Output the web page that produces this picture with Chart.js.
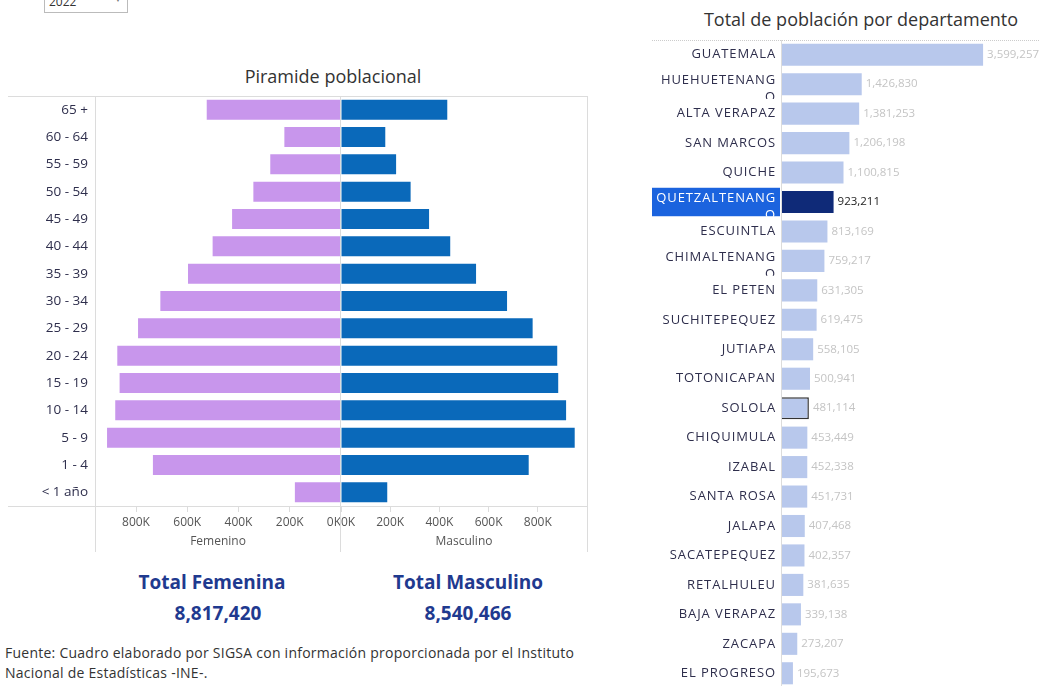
<!DOCTYPE html>
<html>
<head>
<meta charset="utf-8">
<script src="https://cdn.jsdelivr.net/npm/chart.js@4.4.1/dist/chart.umd.min.js"></script>
<style>
  body { margin:0; width:1039px; height:686px; overflow:hidden; background:#fff; position:relative;
         font-family:"Open Sans", sans-serif; }
  .box { position:absolute; }
  .hl { position:absolute; height:1px; background:#dcdcdc; }
  .vl { position:absolute; width:1px; background:#dcdcdc; }
  .ttl { position:absolute; font-size:18px; color:#333; white-space:nowrap; transform:translate(-50%,-50%); }
  .tot { position:absolute; font-weight:bold; font-size:19px; color:#1f3a8f; white-space:nowrap; transform:translate(-50%,-50%); }
</style>
</head>
<body>

<div class="box" style="left:44px;top:-11px;width:82px;height:22px;border:1px solid #bbb;font-size:12px;color:#333;">
  <span style="position:absolute;left:4px;top:3px;">2022</span>
  <span style="position:absolute;right:5px;top:3px;font-size:8px;color:#777;">▼</span>
</div>

<div class="ttl" style="left:333px;top:76px;">Piramide poblacional</div>
<div class="ttl" style="left:861px;top:19px;">Total de población por departamento</div>

<div class="box" style="left:0;top:90px;width:341px;height:466px;"><canvas id="fem"></canvas></div>
<div class="box" style="left:341px;top:90px;width:250px;height:466px;"><canvas id="mas"></canvas></div>
<div class="box" style="left:640px;top:0;width:399px;height:688px;"><canvas id="dept"></canvas></div>

<div class="hl" style="left:8px;top:96px;width:580px;"></div>
<div class="hl" style="left:8px;top:506px;width:88px;"></div>
<div class="vl" style="left:95px;top:96px;height:456px;"></div>
<div class="vl" style="left:340px;top:96px;height:456px;"></div>
<div class="vl" style="left:587px;top:96px;height:456px;"></div>

<div style="position:absolute;left:652px;top:40px;width:387px;border-top:1px dotted #ccc;"></div>
<div class="vl" style="left:781px;top:40px;height:646px;"></div>

<div class="tot" style="left:212px;top:582px;">Total Femenina</div>
<div class="tot" style="left:218px;top:613px;">8,817,420</div>
<div class="tot" style="left:468px;top:582px;">Total Masculino</div>
<div class="tot" style="left:468px;top:613px;">8,540,466</div>

<div style="position:absolute;left:5px;top:643px;font-size:14px;letter-spacing:0.25px;line-height:20px;color:#333;white-space:nowrap;">
  Fuente: Cuadro elaborado por SIGSA con información proporcionada por el Instituto<br>Nacional de Estadísticas -INE-.
</div>

<script>
var ageGroups = ['65 +', '60 - 64', '55 - 59', '50 - 54', '45 - 49', '40 - 44', '35 - 39', '30 - 34',
                 '25 - 29', '20 - 24', '15 - 19', '10 - 14', '5 - 9', '1 - 4', '< 1 año'];
var femenino = [524000, 221000, 276000, 342000, 425000, 501000, 597000, 705000,
                792000, 873000, 864000, 881000, 913000, 734000, 180000];
var masculino = [432000, 180000, 224000, 283000, 358000, 444000, 549000, 675000,
                 779000, 879000, 883000, 915000, 950000, 763000, 188000];
var pyramidTicks = [0, 200000, 400000, 600000, 800000];

var departamentos = ['GUATEMALA', 'HUEHUETENANGO', 'ALTA VERAPAZ', 'SAN MARCOS', 'QUICHE', 'QUETZALTENANGO',
                     'ESCUINTLA', 'CHIMALTENANGO', 'EL PETEN', 'SUCHITEPEQUEZ', 'JUTIAPA', 'TOTONICAPAN',
                     'SOLOLA', 'CHIQUIMULA', 'IZABAL', 'SANTA ROSA', 'JALAPA', 'SACATEPEQUEZ',
                     'RETALHULEU', 'BAJA VERAPAZ', 'ZACAPA', 'EL PROGRESO'];
var poblacion = [3599257, 1426830, 1381253, 1206198, 1100815, 923211, 813169, 759217, 631305, 619475,
                 558105, 500941, 481114, 453449, 452338, 451731, 407468, 402357, 381635, 339138,
                 273207, 195673];
var seleccionado = 'QUETZALTENANGO';
var marcado = 'SOLOLA';

Chart.defaults.font.family = "'Open Sans', sans-serif";

var pyramid = function(id, data, color, reverse, max, title, showLabels) {
    var ctx = document.getElementById(id).getContext('2d');
    return new Chart(ctx, {
        type: 'bar',
        data: {
            labels: ageGroups,
            datasets: [{ data: data, backgroundColor: color, barPercentage: 0.73, categoryPercentage: 1 }]
        },
        options: {
            indexAxis: 'y',
            responsive: true,
            maintainAspectRatio: false,
            animation: false,
            layout: { padding: { top: 6, right: showLabels ? 0 : 4 } },
            plugins: { legend: { display: false }, tooltip: { enabled: false } },
            scales: {
                x: {
                    min: 0, max: max, reverse: reverse,
                    afterBuildTicks: function(s) {
                        s.ticks = pyramidTicks.concat([max]).map(function(v) { return { value: v }; });
                    },
                    afterFit: function(s) {
                        s.height = 50;
                        s.paddingLeft = 0;
                        s.paddingRight = 0;
                    },
                    grid: { drawOnChartArea: false, tickLength: 6, color: '#dcdcdc' },
                    border: { color: '#dcdcdc' },
                    ticks: {
                        align: 'inner', padding: 3, maxRotation: 0, autoSkip: false,
                        color: '#555', font: { size: 12 },
                        callback: function(v) { return v >= max ? '' : (v / 1000) + 'K'; }
                    },
                    title: { display: true, text: title, color: '#555', font: { size: 12 },
                             padding: { top: 0, bottom: 7 } }
                },
                y: {
                    display: showLabels,
                    afterFit: function(s) {
                        if (showLabels) s.width = 95;
                        s.paddingTop = 0;
                        s.paddingBottom = 0;
                    },
                    grid: { display: false, drawTicks: false },
                    border: { display: false },
                    ticks: { padding: 7, color: '#2e2e4c', font: { size: 13.5 } }
                }
            }
        }
    });
};

pyramid('fem', femenino, '#c896ec', true, 960000, 'Femenino', true);
pyramid('mas', masculino, '#0a69ba', false, 1000000, 'Masculino', false);

// wrap a department name the way the dashboard does (overflow goes to a clipped 2nd line)
var wrapName = function(c, name, trigger, maxW) {
    if (c.measureText(name).width <= trigger) return [name];
    var n = name.length - 1;
    while (n > 1 && c.measureText(name.slice(0, n)).width > maxW) n--;
    return [name.slice(0, n), name.slice(n)];
};

var deptLabels = {
    id: 'deptLabels',
    beforeDatasetsDraw: function(chart) {
        var y = chart.scales.y, c = chart.ctx;
        var band = (y.bottom - y.top) / departamentos.length;
        var yc = y.getPixelForValue(departamentos.indexOf(seleccionado));
        c.save();
        c.fillStyle = '#1b63de';
        c.fillRect(12, yc - band / 2 + 0.5, 128, band - 1);
        c.restore();
    },
    afterDraw: function(chart) {
        var c = chart.ctx, y = chart.scales.y, meta = chart.getDatasetMeta(0);
        var band = (y.bottom - y.top) / departamentos.length;
        var left = chart.chartArea.left;
        c.save();
        c.textBaseline = 'middle';
        for (var i = 0; i < departamentos.length; i++) {
            var name = departamentos[i];
            var yc = y.getPixelForValue(i);
            c.font = '13px "Open Sans"';
            c.letterSpacing = '0.9px';
            c.textAlign = 'right';
            c.fillStyle = name === seleccionado ? '#fff' : '#2e2e4c';
            var lines = wrapName(c, name, 119.5, 124);
            c.save();
            c.beginPath();
            c.rect(0, yc - band / 2, left, band);
            c.clip();
            if (lines.length === 1) {
                c.fillText(name, left - 6, yc);
            } else {
                c.fillText(lines[0], left - 6, yc - 4);
                c.fillText(lines[1], left - 6, yc + 13);
            }
            c.restore();

            var bar = meta.data[i];
            c.font = '11.5px "Open Sans"';
            c.letterSpacing = '0px';
            c.textAlign = 'left';
            c.fillStyle = name === seleccionado ? '#222' : '#c4c4c4';
            c.fillText(poblacion[i].toLocaleString('en-US'), bar.x + 4, yc);
        }
        c.restore();
    }
};

var ctx3 = document.getElementById('dept').getContext('2d');
window.deptChart = new Chart(ctx3, {
    type: 'bar',
    data: {
        labels: departamentos,
        datasets: [{
            data: poblacion,
            backgroundColor: function(ctx) { return departamentos[ctx.dataIndex] === seleccionado ? '#0f2a78' : '#b8c8ec'; },
            borderColor: '#333',
            borderWidth: function(ctx) { return departamentos[ctx.dataIndex] === marcado ? 1.5 : 0; },
            barPercentage: 0.75,
            categoryPercentage: 1
        }]
    },
    options: {
        indexAxis: 'y',
        responsive: true,
        maintainAspectRatio: false,
        animation: false,
        layout: { padding: { left: 142, top: 40 } },
        plugins: { legend: { display: false }, tooltip: { enabled: false } },
        scales: {
            x: { display: false, min: 0, max: 4600000 },
            y: { display: false }
        }
    },
    plugins: [deptLabels]
});
</script>
</body>
</html>
